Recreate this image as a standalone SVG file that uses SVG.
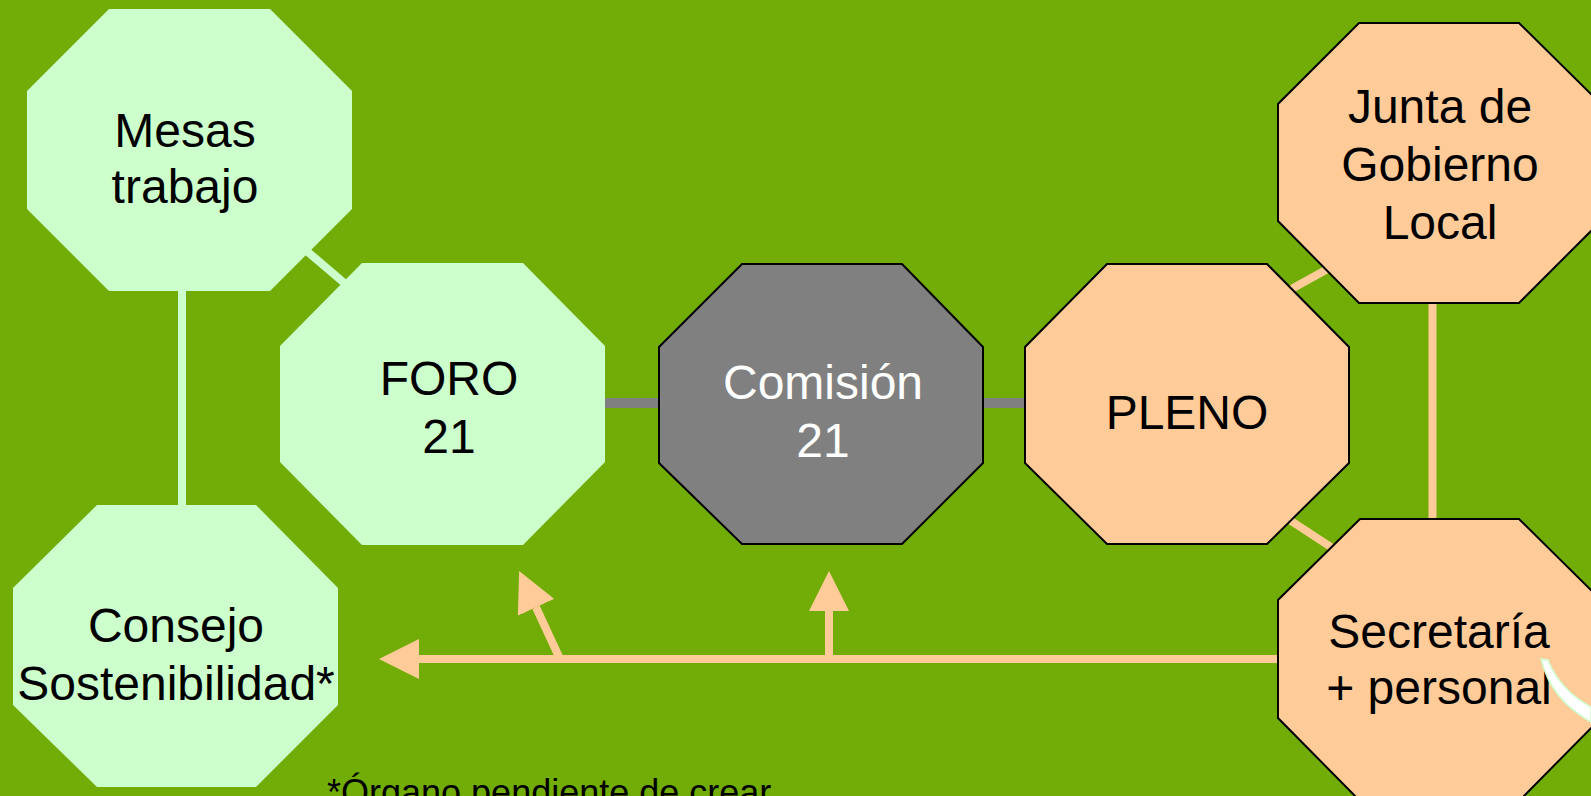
<svg xmlns="http://www.w3.org/2000/svg" width="1591" height="796" viewBox="0 0 1591 796">
<style>
.bg{fill:#71AD06}
.green{fill:#CCFFCC;stroke:none}
.orange{fill:#FFCC99;stroke:#000;stroke-width:2}
.gray{fill:#808080;stroke:#000;stroke-width:2}
.lbl{font-family:"Liberation Sans",Arial,sans-serif;font-size:48px;fill:#000;text-anchor:middle}
.white{fill:#FFFFFF}
.cg{stroke:#CCFFCC;stroke-width:8;fill:none}
.cgr{stroke:#808080;stroke-width:10;fill:none}
.co{stroke:#FFCC99;stroke-width:8;fill:none}
.arr{stroke:#FFCC99;stroke-width:8;fill:none;marker-end:url(#ah)}
.note{font-family:"Liberation Sans",Arial,sans-serif;font-size:36px;fill:#000}
</style>
<defs>
<marker id="ah" markerUnits="userSpaceOnUse" markerWidth="40" markerHeight="40" refX="0" refY="20" orient="auto" viewBox="0 0 40 40">
<path d="M0,0 L40,20 L0,40 Z" fill="#FFCC99"/>
</marker>
</defs>
<rect class="bg" x="0" y="0" width="1591" height="796"/>
<g id="connectors">
<line class="cg" x1="182" y1="285" x2="182" y2="511"/>
<line class="cg" x1="302" y1="247" x2="349" y2="287"/>
<line class="cgr" x1="600" y1="403" x2="664" y2="403"/>
<line class="cgr" x1="978" y1="403" x2="1030" y2="403"/>
<line class="co" x1="1286" y1="292" x2="1333" y2="266"/>
<line class="co" x1="1285" y1="517" x2="1337" y2="551"/>
<line class="co" x1="1432.5" y1="298" x2="1432.5" y2="524"/>
<line class="arr" x1="1280" y1="659" x2="419" y2="659"/>
<line class="arr" x1="829" y1="659" x2="829" y2="611"/>
<line class="arr" x1="560" y1="659" x2="536" y2="607.3"/>
</g>
<g id="mesas">
<polygon class="green" points="109,9 270,9 352,91 352,209 270,291 109,291 27,209 27,91"/>
<text class="lbl" x="185" y="147">Mesas</text>
<text class="lbl" x="185" y="203">trabajo</text>
</g>
<g id="consejo">
<polygon class="green" points="97,505 256,505 338,588 338,705 256,787 97,787 13,705 13,588"/>
<text class="lbl" x="176" y="642">Consejo</text>
<text class="lbl" x="176" y="700">Sostenibilidad*</text>
</g>
<g id="foro">
<polygon class="green" points="362,263 523,263 605,346 605,462 523,545 362,545 280,462 280,346"/>
<text class="lbl" x="449" y="395">FORO</text>
<text class="lbl" x="449" y="453">21</text>
</g>
<g id="comision">
<polygon class="gray" points="742,264 902,264 983,347 983,463 902,544 742,544 659,463 659,347"/>
<text class="lbl white" x="823" y="399">Comisión</text>
<text class="lbl white" x="823" y="457">21</text>
</g>
<g id="pleno">
<polygon class="orange" points="1107,264 1267,264 1349,347 1349,463 1267,544 1107,544 1025,463 1025,347"/>
<text class="lbl" x="1187" y="429">PLENO</text>
</g>
<g id="junta">
<polygon class="orange" points="1359,23 1519,23 1601,104 1601,221 1519,303 1359,303 1278,221 1278,104"/>
<text class="lbl" x="1440" y="123">Junta de</text>
<text class="lbl" x="1440" y="181">Gobierno</text>
<text class="lbl" x="1440" y="239">Local</text>
</g>
<g id="secretaria">
<polygon class="orange" points="1360,519 1519,519 1601,600 1601,718 1519,801 1360,801 1278,718 1278,600"/>
<text class="lbl" x="1439" y="648">Secretaría</text>
<text class="lbl" x="1439" y="704">+ personal</text>
<path d="M1541,659 Q1551,700 1591,722 L1591,707 Q1560,690 1548,660 Z" fill="#FFFFFF" stroke="#CCFFCC" stroke-width="1.5"/>
</g>
<text class="note" x="327" y="805">*Órgano pendiente de crear</text>
</svg>
